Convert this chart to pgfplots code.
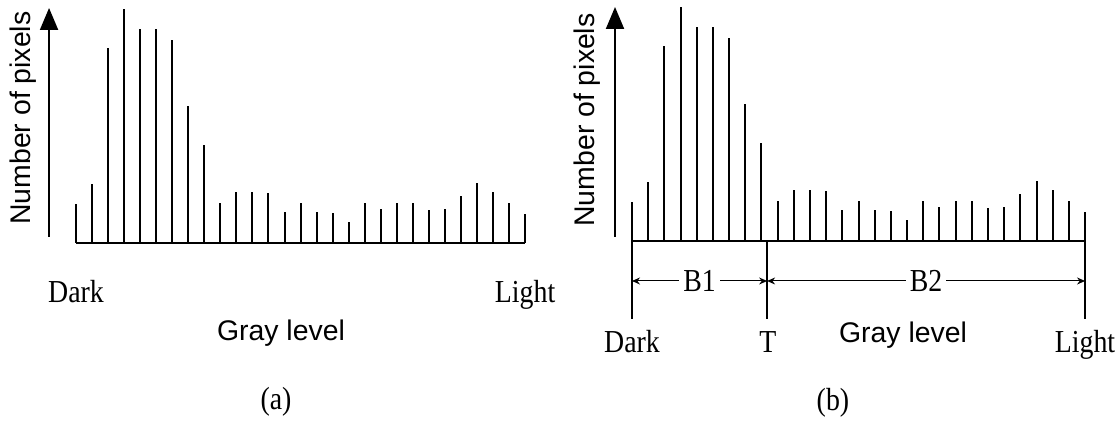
\documentclass[border=0pt]{standalone}
\usepackage{fontspec}
\setmainfont{Liberation Serif}[FakeStretch=0.87]
\setsansfont{Liberation Sans}
\usepackage{pgfplots}
\pgfplotsset{compat=1.18}
\usepackage{pgfplotstable}
\usetikzlibrary{arrows.meta}

% bar heights of the gray-level histogram (same in both panels)
\pgfplotstableread{
idx h
0 38.5
1 59
2 195
3 234
4 214
5 214
6 202.5
7 136.5
8 98
9 39.5
10 50.5
11 51
12 49.5
13 30.5
14 39.5
15 30.5
16 30
17 20.5
18 39.5
19 33.5
20 40
21 39.5
22 33
23 33.5
24 47
25 59.5
26 50.5
27 39.5
28 28.5
}\hist

\tikzset{
  rm/.style={font=\fontsize{16}{18}\selectfont, inner sep=0pt},
  sf/.style={font=\sffamily\fontsize{14.2}{16}\selectfont, inner sep=0pt},
  yarr/.style={line width=1pt, -{Triangle[length=11pt,width=9pt]}},
  dim/.style={line width=0.5pt, {Stealth[length=4pt,width=3.5pt]}-{Stealth[length=4pt,width=3.5pt]}},
}
\pgfplotsset{
  histo/.style={hide axis, clip=false, y=0.5pt,
    xmin=-2, xmax=29, ymin=0, ymax=240, anchor=south west},
}

\begin{document}
\begin{tikzpicture}
\useasboundingbox (0,0) rectangle (559pt,210.5pt);

% (a)
\begin{axis}[histo, x=8.02pt, at={(21.96pt,89pt)}]
\addplot[ycomb, black, line width=1pt, no marks] table[x=idx, y=h] {\hist};
\addplot[black, line width=1pt, no marks] coordinates {(0,0) (28,0)};
\draw[yarr] (axis cs:-1.68,6) -- (axis cs:-1.68,235);
\node[sf, rotate=90] at (axis cs:-3.3,125) {Number of pixels};
\node[rm, anchor=base] at (axis cs:0,-60) {Dark};
\node[rm, anchor=base] at (axis cs:28,-60) {Light};
\node[sf, anchor=base] at (axis cs:12.78,-98) {Gray level};
\node[rm] at (axis cs:12.47,-159) {(a)};
\end{axis}

% (b)
\begin{axis}[histo, x=8.09pt, at={(299.82pt,90pt)}]
\addplot[ycomb, black, line width=1pt, no marks] table[x=idx, y=h] {\hist};
\addplot[black, line width=1pt, no marks] coordinates {(0,0) (28,0)};
\draw[yarr] (axis cs:-1.05,4) -- (axis cs:-1.05,234);
\node[sf, rotate=90] at (axis cs:-2.78,121) {Number of pixels};
\draw[line width=0.75pt] (axis cs:0,0) -- (axis cs:0,-78);
\draw[line width=0.75pt] (axis cs:8.35,0) -- (axis cs:8.35,-78);
\draw[line width=0.75pt] (axis cs:28,0) -- (axis cs:28,-78);
\draw[dim] (axis cs:0,-40) -- node[rm, fill=white, inner xsep=2pt] {B1} (axis cs:8.35,-40);
\draw[dim] (axis cs:8.35,-40) -- node[rm, fill=white, inner xsep=2pt] {B2} (axis cs:28,-40);
\node[rm, anchor=base] at (axis cs:0,-112) {Dark};
\node[rm, anchor=base] at (axis cs:8.4,-112) {T};
\node[rm, anchor=base] at (axis cs:28,-112) {Light};
\node[sf, anchor=base] at (axis cs:16.75,-102) {Gray level};
\node[rm] at (axis cs:12.42,-162) {(b)};
\end{axis}
\end{tikzpicture}
\end{document}
